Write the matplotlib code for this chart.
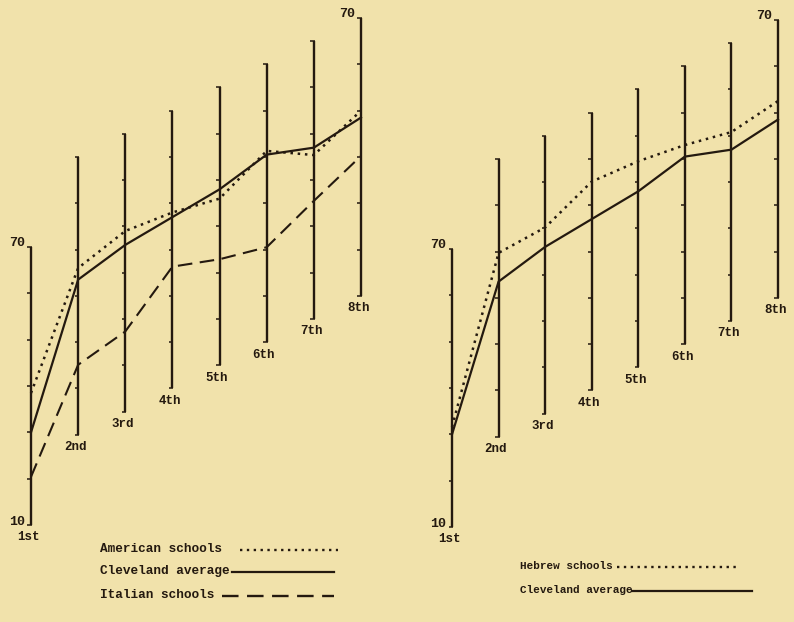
"""Grade-by-grade comparison of school groups against the Cleveland average.

Each grade has its own 10-70 scale, drawn as a vertical rule that is shifted
upward from grade to grade (as in the original printed figure).
"""
import matplotlib
matplotlib.use("Agg")
import matplotlib.pyplot as plt  # noqa: E402

grades = ["1st", "2nd", "3rd", "4th", "5th", "6th", "7th", "8th"]
cleveland = [30.0, 43.5, 46.0, 47.0, 48.0, 50.5, 47.0, 48.5]
american = [38.5, 46.0, 49.0, 48.0, 46.0, 51.3, 45.4, 50.0]
italian = [20.4, 25.1, 27.3, 36.3, 32.9, 30.5, 35.5, 40.2]
hebrew = [31.6, 49.7, 50.2, 55.1, 54.5, 53.0, 50.8, 52.5]
scale_ticks = [10, 20, 30, 40, 50, 60, 70]

# layout: upward shift of each grade's scale, in scale units
shift = [0, 19.5, 24.5, 29.5, 34.5, 39.5, 44.5, 49.5]

W, H = 794, 622
PAPER = "#f1e2ab"
INK = "#24190f"
FONT = dict(family=["Liberation Mono", "DejaVu Sans Mono"], weight="bold",
            color=INK)

DOTTED = (0, (1, 1.9))
DASHED = (0, (7, 3.6))

fig = plt.figure(figsize=(W / 100, H / 100), dpi=100, facecolor=PAPER)


def panel(x0, dx, y10, unit=4.63, ylim=123):
    """Axes where grade i sits at pixel x0 + i*dx and value 10 (unshifted)
    at pixel y10; returns the axes in data units (grade, value + shift)."""
    left = x0 - 0.5 * dx
    width = 8 * dx
    ybase = y10 + 10 * unit
    ax = fig.add_axes([left / W, (H - ybase) / H, width / W, ylim * unit / H])
    ax.set_xlim(-0.5, 7.5)
    ax.set_ylim(0, ylim)
    ax.axis("off")
    for i, g in enumerate(grades):
        lo, hi = scale_ticks[0] + shift[i], scale_ticks[-1] + shift[i]
        ax.plot([i, i], [lo, hi], color=INK, lw=1.7, solid_capstyle="butt")
        ax.hlines([t + shift[i] for t in scale_ticks], i - 0.075, i + 0.02,
                  color=INK, lw=1.1)
        ax.text(i - 0.06, lo - 1.4, g, ha="center", va="top", fontsize=9, **FONT)
    ax.text(-0.13, scale_ticks[0] + 0.6, "10", ha="right", va="center",
            fontsize=9.5, **FONT)
    ax.text(-0.13, scale_ticks[-1] + 0.9, "70", ha="right", va="center",
            fontsize=9.5, **FONT)
    ax.text(7 - 0.13, scale_ticks[-1] + shift[7] + 0.9, "70", ha="right",
            va="center", fontsize=9.5, **FONT)
    return ax


def shifted(vals):
    return [v + s for v, s in zip(vals, shift)]


xs = list(range(len(grades)))

# left panel: American / Cleveland / Italian
axl = panel(31, 47.14, 525)
axl.plot(xs, shifted(american), color=INK, lw=1.8, ls=DOTTED)
axl.plot(xs, shifted(cleveland), color=INK, lw=1.6)
axl.plot(xs, shifted(italian), color=INK, lw=1.5, ls=DASHED)

# right panel: Hebrew / Cleveland
axr = panel(452, 46.57, 527)
axr.plot(xs, shifted(hebrew), color=INK, lw=1.8, ls=DOTTED)
axr.plot(xs, shifted(cleveland), color=INK, lw=1.6)

# legends, typed in pixel space under each panel
lax = fig.add_axes([0, 0, 1, 1])
lax.set_xlim(0, W)
lax.set_ylim(H, 0)
lax.axis("off")

legend_rows = [
    ("American schools", 100, 549, 240, 338, DOTTED, 9.2),
    ("Cleveland average", 100, 571, 232, 334, "-", 9.2),
    ("Italian schools", 100, 595, 222, 334, DASHED, 9.2),
    ("Hebrew schools", 520, 566, 617, 738, DOTTED, 7.9),
    ("Cleveland average", 520, 590, 632, 752, "-", 7.9),
]
for label, tx, ty, l0, l1, style, fs in legend_rows:
    lax.text(tx, ty, label, ha="left", va="center", fontsize=fs, **FONT)
    lax.plot([l0, l1], [ty + 1, ty + 1], color=INK, ls=style,
             lw=1.6 if style == "-" else 1.7)

fig.savefig("out.png", dpi=100, facecolor=PAPER)
